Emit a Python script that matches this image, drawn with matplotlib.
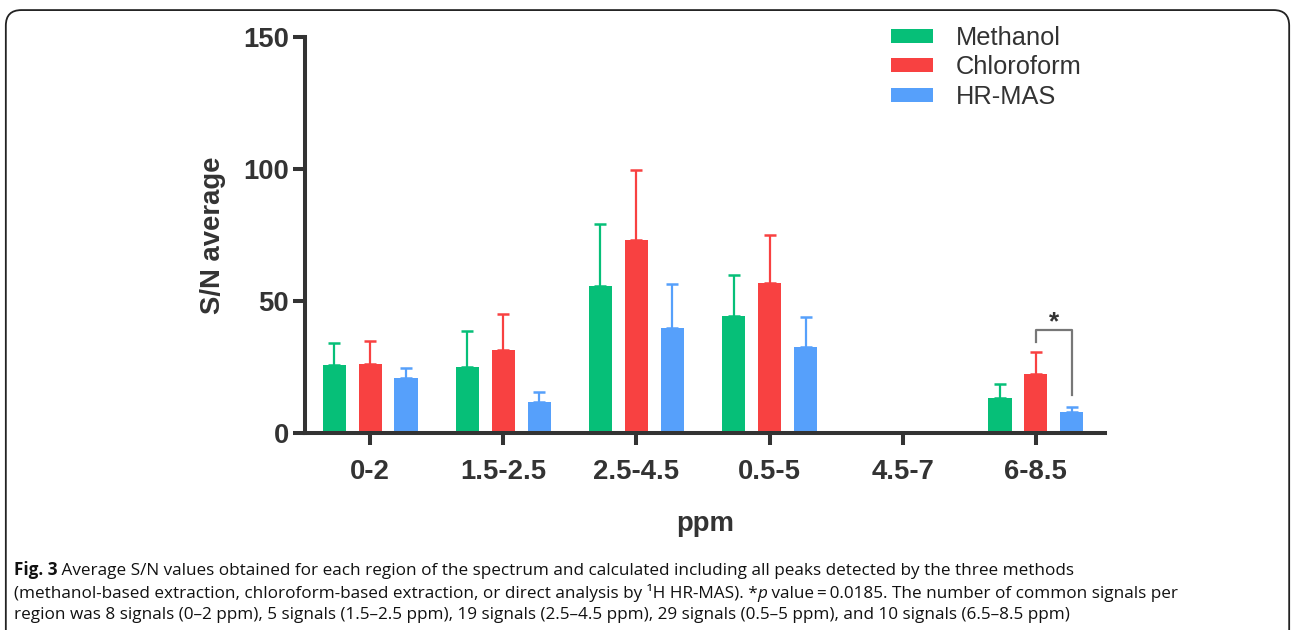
import matplotlib
matplotlib.use("Agg")
import matplotlib.pyplot as plt
import numpy as np
from matplotlib.patches import FancyBboxPatch, Patch

# ---- data ----
regions = ["0-2", "1.5-2.5", "2.5-4.5", "0.5-5", "4.5-7", "6-8.5"]
series = ["Methanol", "Chloroform", "HR-MAS"]
methanol = [25.7, 25.1, 55.6, 44.3, np.nan, 13.1]
methanol_err = [8.3, 13.5, 23.4, 15.6, np.nan, 5.3]
chloroform = [26.1, 31.3, 72.9, 56.9, np.nan, 22.3]
chloroform_err = [8.7, 13.9, 26.8, 18.0, np.nan, 8.5]
hrmas = [20.9, 11.8, 39.6, 32.4, np.nan, 7.8]
hrmas_err = [3.6, 3.8, 16.8, 11.4, np.nan, 2.0]
colors = ["#06BF78", "#F84141", "#56A0FB"]
yticks = [0, 50, 100, 150]
sig_region = "6-8.5"
sig_pair = (1, 2)
sig_levels = (39.0, 34.6, 14.4)
sig_label = "*"

dark = "#333333"
plt.rcParams['font.family'] = ['Liberation Sans', 'DejaVu Sans']

fig = plt.figure(figsize=(12.95, 6.3), dpi=100)
ax = fig.add_axes([0.2355, 0.3127, 0.6178, 0.6291])

x = np.arange(len(regions))
offset = 0.27
width = 0.175
vals = [methanol, chloroform, hrmas]
errs = [methanol_err, chloroform_err, hrmas_err]
for i, (v, e, c, name) in enumerate(zip(vals, errs, colors, series)):
    pos = x + (i - 1) * offset
    ax.bar(pos, v, width=width, color=c, label=name, zorder=2)
    v_arr = np.array(v, dtype=float)
    e_arr = np.array(e, dtype=float)
    ax.errorbar(pos, v_arr, yerr=[np.zeros_like(e_arr), e_arr], fmt='none',
                ecolor=c, elinewidth=1.6, capsize=4.3, capthick=1.8, zorder=1)

# significance bracket
gi = regions.index(sig_region)
xl = gi + (sig_pair[0] - 1) * offset
xr = gi + (sig_pair[1] - 1) * offset
top, lft, rgt = sig_levels
ax.plot([xl, xl, xr, xr], [lft, top, top, rgt], color="#777777", lw=1.6, zorder=3)
ax.text((xl + xr) / 2, top + 2.8, sig_label, ha='center', va='center',
        fontsize=19, fontweight='bold', color=dark)

ax.set_xlim(-0.49, 5.52)
ax.set_ylim(0, 150)
ax.set_yticks(yticks)
ax.set_xticks(x)
ax.set_xticklabels(regions)
for s in ["top", "right"]:
    ax.spines[s].set_visible(False)
for s in ["left", "bottom"]:
    ax.spines[s].set_linewidth(2.9)
    ax.spines[s].set_color(dark)
    ax.spines[s].set_capstyle('projecting')
ax.tick_params(axis='both', length=8.6, width=2.9, color=dark, labelcolor=dark,
               labelsize=19.8)
ax.tick_params(axis='x', pad=10)
ax.tick_params(axis='y', pad=3)
for lab in ax.get_xticklabels() + ax.get_yticklabels():
    lab.set_fontweight('bold')
ax.set_ylabel("S/N average", fontsize=19.8, fontweight='bold', color=dark, labelpad=12)
ax.set_xlabel("ppm", fontsize=19.8, fontweight='bold', color=dark, labelpad=19)

handles = [Patch(facecolor=c, edgecolor='none') for c in colors]
leg = ax.legend(handles, series, loc='upper left', bbox_to_anchor=(0.7195, 1.053),
                frameon=False, fontsize=18.3, handlelength=1.65, handleheight=0.48,
                handletextpad=0.9, labelspacing=0.22, borderaxespad=0)
for t in leg.get_texts():
    t.set_color(dark)

# rounded frame
frame = FancyBboxPatch((0.0045, -0.05), 0.991, 1.034,
                       boxstyle="round,pad=0,rounding_size=0.012",
                       transform=fig.transFigure, facecolor='none',
                       edgecolor='#222222', lw=1.3, mutation_aspect=1295/630)
fig.patches.append(frame)

# caption
cap_font = ['Open Sans', 'DejaVu Sans']
fs = 12.3
cc = '#111111'
y1, y2, y3 = 1 - 570/630, 1 - 593/630, 1 - 615/630
t = fig.text(0.0105, y1, "Fig. 3", fontsize=fs, fontweight='bold', family=cap_font,
             va='center', color=cc)
plt.annotate(" Average S/N values obtained for each region of the spectrum and calculated including all peaks detected by the three methods",
             xy=(1, 0), xycoords=t, va='bottom', ha='left',
             fontsize=fs, family=cap_font, color=cc)
t2 = fig.text(0.0105, y2, "(methanol-based extraction, chloroform-based extraction, or direct analysis by \u00b9H HR-MAS). *",
              fontsize=fs, family=cap_font, va='center', color=cc)
t2b = plt.annotate("p", xy=(1, 0), xycoords=t2, va='bottom', ha='left',
                   fontsize=fs, family=cap_font, style='italic', color=cc)
plt.annotate(" value\u2009=\u20090.0185. The number of common signals per", xy=(1, 0), xycoords=t2b,
             va='bottom', ha='left', fontsize=fs, family=cap_font, color=cc)
fig.text(0.0105, y3, "region was 8 signals (0\u20132 ppm), 5 signals (1.5\u20132.5 ppm), 19 signals (2.5\u20134.5 ppm), 29 signals (0.5\u20135 ppm), and 10 signals (6.5\u20138.5 ppm)",
         fontsize=fs, family=cap_font, va='center', color=cc)

fig.savefig("out.png", dpi=100)
